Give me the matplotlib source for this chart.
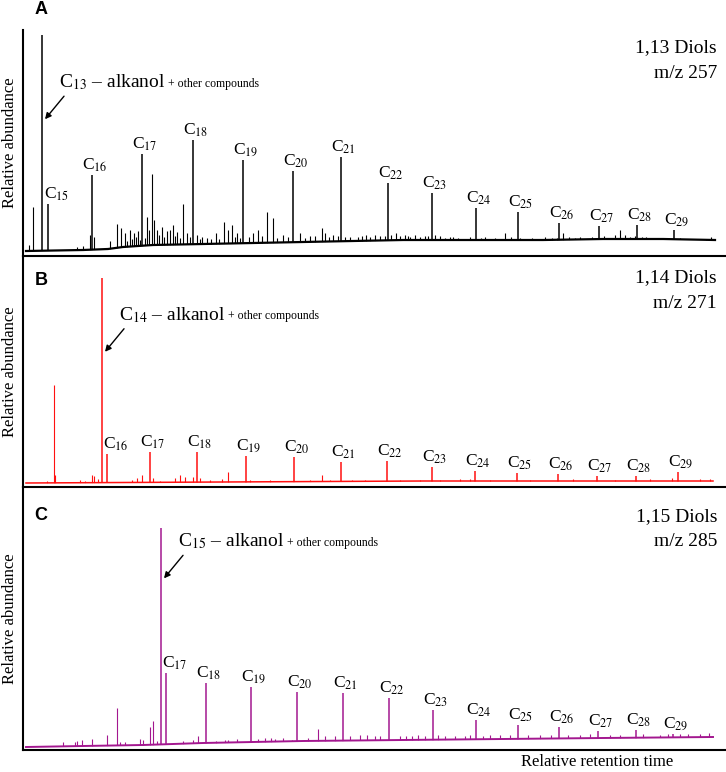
import matplotlib
matplotlib.use('Agg')
import matplotlib.pyplot as plt

plt.rcParams['font.family'] = ['Liberation Serif', 'DejaVu Serif']
plt.rcParams['mathtext.fontset'] = 'stix'

# retention positions (relative units) and peak heights (relative abundance)
# panel A : 1,13 diols, m/z 257
a_alkanol = (19, 216)
a_labels = ['C$_{15}$', 'C$_{16}$', 'C$_{17}$', 'C$_{18}$', 'C$_{19}$', 'C$_{20}$', 'C$_{21}$', 'C$_{22}$',
            'C$_{23}$', 'C$_{24}$', 'C$_{25}$', 'C$_{26}$', 'C$_{27}$', 'C$_{28}$', 'C$_{29}$']
a_rt = [25, 69, 119, 170, 220, 270, 318, 365, 409, 453, 495, 536, 576, 614, 651]
a_h = [47, 76, 97, 111, 91, 80, 94, 68, 58, 43, 39, 28, 25, 26, 21]
a_minor_rt = [6, 10, 54, 60, 67, 71, 87, 94, 98, 102, 107, 111, 115, 124, 126, 129, 131, 134, 139, 144,
              147, 150, 154, 160, 164, 174, 179, 193, 201, 205, 209, 214, 230, 235, 244, 250, 260, 277,
              287, 299, 302, 310, 327, 343, 347, 352, 357, 373, 377, 382, 387, 392, 397, 402, 417, 422,
              427, 435, 442, 458, 467, 477, 482, 502, 517, 529, 540, 557, 562, 587, 592, 597, 602, 607,
              619, 627, 637, 667, 677, 688,
              104, 109, 113, 117, 122, 136, 141, 152, 157, 167, 177, 184, 188, 196, 212, 217, 226, 239,
              254, 265, 282, 292, 306, 315, 322, 335, 339, 362, 368, 385, 405, 412, 430, 447, 462, 472,
              488, 497, 509, 522, 534, 546, 552, 569, 581, 612, 623, 645, 657, 683]
a_minor_h = [6, 44, 4, 5, 16, 14, 10, 27, 23, 18, 21, 18, 20, 34, 21, 77, 31, 21, 24, 20,
             21, 26, 19, 47, 18, 16, 14, 18, 29, 21, 26, 18, 18, 21, 39, 33, 16, 18,
             15, 23, 18, 16, 14, 16, 14, 16, 15, 18, 15, 16, 14, 16, 14, 15, 15, 13,
             14, 13, 12, 13, 12, 11, 18, 12, 11, 13, 18, 14, 12, 13, 16, 21, 16, 14,
             14, 12, 11, 10, 10, 14,
             10, 12, 14, 11, 13, 16, 14, 15, 13, 14, 12, 13, 12, 12, 14, 13, 14, 15,
             13, 14, 13, 15, 14, 15, 14, 14, 15, 15, 16, 15, 15, 16, 14, 14, 14, 13,
             14, 13, 13, 14, 13, 14, 13, 14, 15, 15, 14, 13, 13, 12]
a_base_rt = [3, 60, 85, 100, 130, 180, 230, 280, 330, 380, 450, 520, 580, 640, 692]
a_base = [0, 1, 2, 4, 6, 7, 8, 9, 10, 11, 11, 11, 12, 12, 11]

# panel B : 1,14 diols, m/z 271
b_alkanol = (79, 205)
b_labels = ['C$_{16}$', 'C$_{17}$', 'C$_{18}$', 'C$_{19}$', 'C$_{20}$', 'C$_{21}$', 'C$_{22}$', 'C$_{23}$',
            'C$_{24}$', 'C$_{25}$', 'C$_{26}$', 'C$_{27}$', 'C$_{28}$', 'C$_{29}$']
b_rt = [84, 127, 174, 223, 271, 318, 364, 409, 452, 494, 535, 574, 613, 655]
b_h = [29, 31, 31, 27, 26, 21, 22, 16, 12, 10, 9, 7, 7, 11]
b_minor_rt = [24, 31, 32, 57, 62, 69, 71, 75, 109, 114, 119, 130, 137, 152, 157, 162, 170, 177, 187, 199,
              205, 227, 247, 287, 299, 307, 329, 342, 377, 397, 417, 437, 447, 467, 507, 550, 592, 627,
              649, 677, 687]
b_minor_h = [2, 98, 8, 3, 2, 8, 7, 4, 3, 5, 8, 5, 2, 5, 8, 6, 6, 5, 3, 4,
             11, 3, 3, 3, 8, 3, 3, 3, 3, 3, 3, 4, 4, 3, 3, 4, 3, 4,
             5, 4, 4]
b_base_rt = [3, 100, 200, 400, 600, 690]
b_base = [0, 0.5, 1, 2, 2, 2]

# panel C : 1,15 diols, m/z 285
c_alkanol = (138, 219)
c_labels = ['C$_{17}$', 'C$_{18}$', 'C$_{19}$', 'C$_{20}$', 'C$_{21}$', 'C$_{22}$', 'C$_{23}$', 'C$_{24}$',
            'C$_{25}$', 'C$_{26}$', 'C$_{27}$', 'C$_{28}$', 'C$_{29}$']
c_rt = [143, 183, 228, 274, 320, 366, 410, 453, 495, 536, 575, 613, 650]
c_h = [74, 64, 60, 55, 54, 49, 37, 27, 22, 20, 16, 17, 13]
c_minor_rt = [40, 52, 54, 59, 69, 84, 94, 97, 102, 117, 120, 127, 130, 134, 160, 170, 175, 193, 202, 214,
              242, 252, 260, 269, 295, 302, 312, 327, 337, 344, 352, 377, 389, 395, 422, 432, 442, 467,
              477, 517, 557, 597, 637, 657, 677, 686,
              205, 235, 248, 285, 357, 383, 402, 415, 447, 460, 487, 505, 528, 545, 567, 587, 620, 645, 665]
c_minor_h = [5, 5, 6, 7, 8, 12, 39, 5, 5, 8, 7, 20, 26, 6, 6, 7, 11, 6, 7, 8,
             9, 8, 9, 7, 18, 11, 11, 11, 12, 12, 11, 11, 11, 12, 11, 11, 11, 12,
             12, 12, 12, 12, 12, 13, 13, 14,
             7, 8, 9, 9, 11, 11, 11, 12, 12, 11, 12, 12, 12, 12, 13, 12, 13, 13, 13]
c_base_rt = [3, 60, 120, 180, 280, 380, 480, 580, 690]
c_base = [0, 1, 2, 4, 6, 7, 8, 9, 10]

W, H = 726, 772
fig = plt.figure(figsize=(W / 100, H / 100), dpi=100)
fig.set_facecolor('white')


def fx(x):
    return x / W


def fy(y):
    return 1 - y / H


panels = [
    dict(top=30, bottom=256, base=251, color='black', letter='A', title=['1,13 Diols', 'm/z 257'], ty=48,
         alk=a_alkanol, alk_name='C$_{13}$', arrow_frac=0.61, labels=a_labels, rt=a_rt, h=a_h,
         mrt=a_minor_rt, mh=a_minor_h, brt=a_base_rt, bh=a_base, ly=10, lw_base=1.6),
    dict(top=256, bottom=487, base=483, color='#ff1010', letter='B', title=['1,14 Diols', 'm/z 271'], ty=278,
         alk=b_alkanol, alk_name='C$_{14}$', arrow_frac=0.64, labels=b_labels, rt=b_rt, h=b_h,
         mrt=b_minor_rt, mh=b_minor_h, brt=b_base_rt, bh=b_base, ly=281, lw_base=1.1),
    dict(top=487, bottom=750, base=747, color='#a3178f', letter='C', title=['1,15 Diols', 'm/z 285'], ty=517,
         alk=c_alkanol, alk_name='C$_{15}$', arrow_frac=0.77, labels=c_labels, rt=c_rt, h=c_h,
         mrt=c_minor_rt, mh=c_minor_h, brt=c_base_rt, bh=c_base, ly=515, lw_base=1.4),
]

for p in panels:
    ax = fig.add_axes([fx(23), fy(p['bottom']), 1 - fx(23), (p['bottom'] - p['top']) / H])
    ax.set_xlim(0, 703)
    ax.set_ylim(-(p['bottom'] - p['base']), p['base'] - p['top'])
    for s in ['top', 'right']:
        ax.spines[s].set_visible(False)
    for s in ['left', 'bottom']:
        ax.spines[s].set_linewidth(1.5)
    ax.set_xticks([])
    ax.set_yticks([])
    ax.patch.set_alpha(0)

    col = p['color']
    ax.vlines(p['mrt'], 0, p['mh'], color=col, lw=0.8, zorder=2)
    ax.vlines(p['rt'], 0, p['h'], color=col, lw=1.1, zorder=2)
    ax.vlines([p['alk'][0]], 0, [p['alk'][1]], color=col, lw=1.1, zorder=2)
    ax.fill_between(p['brt'], p['bh'], -50, color='white', lw=0, zorder=2.1)
    ax.plot(p['brt'], p['bh'], color=col, lw=p['lw_base'], zorder=2.2)

    # peak labels
    for i, (lab, x, y) in enumerate(zip(p['labels'], p['rt'], p['h'])):
        dx = 6.5 if i == 0 else 2
        ax.annotate(lab, xy=(x, y), xytext=(dx, 0.5), textcoords='offset points',
                    ha='center', va='bottom', fontsize=12.5)

    # alkanol arrow and label
    head = (p['alk'][0] + 3, p['alk'][1] * p['arrow_frac'])
    ax.annotate('', xy=head, xytext=(13.7, 16.6), textcoords='offset points',
                arrowprops=dict(arrowstyle='-|>', color='black', lw=1.0, mutation_scale=9,
                                shrinkA=0, shrinkB=0))
    t1 = ax.annotate(p['alk_name'] + ' – alkanol', xy=head, xytext=(10, 19.5), textcoords='offset points',
                     ha='left', va='bottom', fontsize=14)
    ax.annotate(' + other compounds', xy=(1, 0.12), xycoords=t1, ha='left', va='bottom', fontsize=8.5)

    fig.text(fx(717), fy(p['ty']), p['title'][0], ha='right', va='center', fontsize=14)
    fig.text(fx(717), fy(p['ty'] + 25), p['title'][1], ha='right', va='center', fontsize=14)
    fig.text(fx(41), fy(p['ly']), p['letter'], ha='center', va='center', fontsize=13,
             fontweight='bold', family=['Liberation Sans', 'DejaVu Sans'])
    fig.text(fx(10), fy((p['top'] + p['bottom']) / 2), 'Relative abundance', rotation=90,
             ha='center', va='center', fontsize=12)

fig.text(fx(597), fy(762), 'Relative retention time', ha='center', va='center', fontsize=12)

fig.savefig('out.png', dpi=100, facecolor='white')
